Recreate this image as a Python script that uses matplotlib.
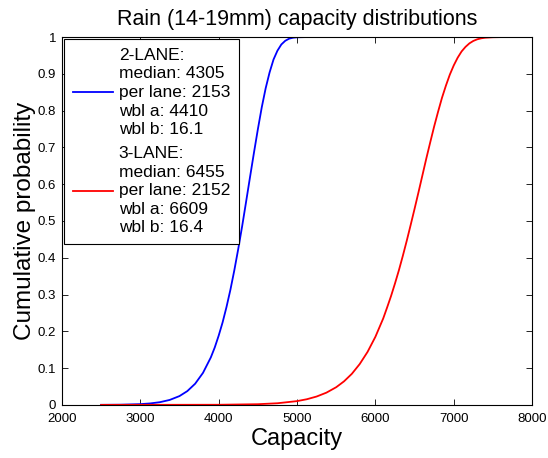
import numpy as np
import matplotlib
matplotlib.use("Agg")
import matplotlib.pyplot as plt

plt.rcParams['font.family'] = ['Liberation Sans', 'DejaVu Sans']

# values
cap_2lane = [2500, 2750, 3000, 3125, 3250, 3375, 3500, 3600, 3700, 3800, 3900,
             3950, 4000, 4050, 4100, 4150, 4200, 4250, 4300, 4350, 4400, 4450,
             4500, 4550, 4600, 4650, 4700, 4750, 4800, 4850, 4900, 4950, 5000,
             5100, 8000]
prob_2lane = [0.0001, 0.0005, 0.002, 0.0039, 0.0073, 0.0134, 0.0239, 0.0374,
              0.0575, 0.087, 0.129, 0.156, 0.188, 0.224, 0.266, 0.313, 0.366,
              0.424, 0.486, 0.552, 0.619, 0.685, 0.749, 0.809, 0.861, 0.904,
              0.939, 0.963, 0.980, 0.990, 0.9958, 0.9984, 0.9995, 1.0, 1.0]

cap_3lane = [2500, 4000, 4500, 4750, 5000, 5125, 5250, 5375, 5500, 5600, 5700,
             5800, 5900, 6000, 6050, 6100, 6150, 6200, 6250, 6300, 6350, 6400,
             6450, 6500, 6550, 6600, 6650, 6700, 6750, 6800, 6850, 6900, 6950,
             7000, 7050, 7100, 7150, 7200, 7250, 7300, 7350, 7400, 7500, 7600,
             8000]
prob_3lane = [0.0, 0.0003, 0.0018, 0.0044, 0.0102, 0.0153, 0.0227, 0.0332,
              0.048, 0.064, 0.0845, 0.111, 0.144, 0.185, 0.210, 0.235, 0.265,
              0.296, 0.330, 0.366, 0.405, 0.446, 0.489, 0.533, 0.578, 0.624,
              0.670, 0.714, 0.757, 0.797, 0.835, 0.868, 0.898, 0.923, 0.944,
              0.961, 0.9734, 0.983, 0.9896, 0.994, 0.9967, 0.9983, 0.9996, 1.0,
              1.0]

label_2lane = "2-LANE:\nmedian: 4305\nper lane: 2153\nwbl a: 4410\nwbl b: 16.1"
label_3lane = "3-LANE:\nmedian: 6455\nper lane: 2152\nwbl a: 6609\nwbl b: 16.4"

xticks = [2000, 3000, 4000, 5000, 6000, 7000, 8000]
yticks = np.round(np.arange(0, 1.01, 0.1), 1)
ytick_labels = ["0"] + ["%.1f" % v for v in yticks[1:-1]] + ["1"]

fig = plt.figure(figsize=(5.48, 4.58), dpi=100)
ax = fig.add_axes([0.113, 0.116, 0.858, 0.803])

ax.plot(cap_2lane, prob_2lane, color='blue', linewidth=1.3, label=label_2lane)
ax.plot(cap_3lane, prob_3lane, color='red', linewidth=1.3, label=label_3lane)

ax.set_xlim(2000, 8000)
ax.set_ylim(0, 1)
ax.set_xticks(xticks)
ax.set_yticks(yticks)
ax.set_yticklabels(ytick_labels)
ax.tick_params(direction='in', top=True, right=True, labelsize=9.5, length=4, width=0.6)
ax.tick_params(axis='x', pad=6)
ax.tick_params(axis='y', pad=4)
for s in ax.spines.values():
    s.set_linewidth(0.8)

ax.set_title("Rain (14-19mm) capacity distributions", fontsize=15.5, pad=9)
ax.set_xlabel("Capacity", fontsize=17, labelpad=2)
ax.set_ylabel("Cumulative probability", fontsize=17.5, labelpad=1)

leg = ax.legend(loc='upper left', fontsize=12.5, frameon=True, fancybox=False,
                edgecolor='black', framealpha=1, handlelength=2.3,
                handletextpad=0.35, labelspacing=0.5, borderpad=0.5,
                borderaxespad=0.12)
leg.get_frame().set_linewidth(0.8)
for t in leg.get_texts():
    t.set_linespacing(1.3)
    t.set_multialignment('left')

fig.savefig("out.png", dpi=100)
